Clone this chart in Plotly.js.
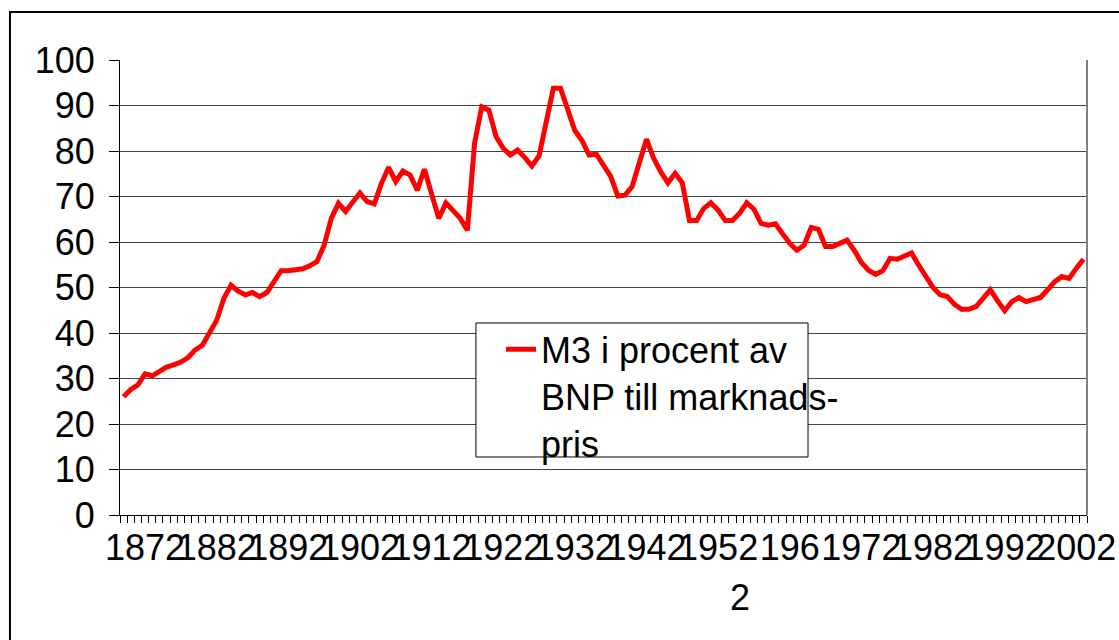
<!DOCTYPE html>
<html>
<head>
<meta charset="utf-8">
<script src="https://cdn.plot.ly/plotly-3.0.1.min.js"></script>
<style>
html,body{margin:0;padding:0;background:#fff;}
#chart{width:1119px;height:640px;}
</style>
</head>
<body>
<div id="chart"></div>
<script>
// Years (categories)
var years = [];
for (var y = 1869; y <= 2003; y++) years.push(y);

// M3 i procent av BNP till marknadspris
var m3Share = [
  26.0, 27.6, 28.6, 31.0, 30.6, 31.7, 32.5, 33.0, 33.6, 34.6,
  36.3, 37.3, 40.3, 42.8, 47.6, 50.5, 49.2, 48.4, 48.9, 48.0,
  48.9, 51.3, 53.7, 53.7, 54.0, 54.1, 54.8, 55.7, 59.3, 65.2,
  68.5, 66.7, 68.8, 70.8, 68.9, 68.4, 72.9, 76.4, 73.3, 75.6,
  74.7, 71.4, 76.0, 70.5, 65.2, 68.6, 67.0, 65.2, 62.6, 81.7,
  89.7, 89.0, 83.2, 80.6, 79.1, 80.2, 78.6, 76.7, 78.9, 86.1,
  93.8, 93.8, 89.0, 84.5, 82.3, 79.1, 79.3, 76.9, 74.4, 70.1,
  70.3, 72.2, 77.3, 82.6, 78.4, 75.4, 73.0, 75.1, 73.0, 64.7,
  64.7, 67.4, 68.6, 67.0, 64.7, 64.7, 66.3, 68.6, 67.2, 64.1,
  63.7, 64.0, 61.8, 59.7, 58.2, 59.3, 63.2, 62.8, 59.0, 59.0,
  59.7, 60.4, 58.2, 55.5, 53.8, 52.9, 53.7, 56.4, 56.2, 56.9,
  57.6, 54.9, 52.2, 50.0, 48.4, 48.0, 46.3, 45.2, 45.2, 45.8,
  47.6, 49.5, 47.1, 44.9, 46.9, 47.8, 46.9, 47.3, 47.8, 49.5,
  51.3, 52.4, 52.0, 54.2, 56.2
];

// Tick labels (as shown on the original axis)
var tickYears = [1872, 1882, 1892, 1902, 1912, 1922, 1932, 1942, 1952, 1962, 1972, 1982, 1992, 2002];
var tickLabels = ["1872", "1882", "1892", "1902", "1912", "1922", "1932", "1942", "1952", "196", "1972", "1982", "1992", "2002"];

var seriesName = "M3 i procent av<br>BNP till marknads-<br>pris";
var xTitle = "2";

var FONT = "Liberation Sans, Arial, sans-serif";

var trace = {
  x: years,
  y: m3Share,
  type: "scatter",
  mode: "lines",
  name: seriesName,
  line: {color: "#FF0000", width: 5},
  hoverinfo: "x+y"
};

var layout = {
  width: 1119,
  height: 640,
  paper_bgcolor: "#fff",
  plot_bgcolor: "#fff",
  margin: {l: 120, r: 32, t: 60, b: 125},
  font: {family: FONT, size: 36, color: "#000"},
  showlegend: true,
  legend: {
    x: 0.394, y: 0.43, xanchor: "left", yanchor: "top",
    valign: "top",
    bgcolor: "rgba(0,0,0,0)", borderwidth: 0,
    font: {family: FONT, size: 36, color: "#000"}
  },
  xaxis: {
    range: [1868.5, 2003.5],
    tickmode: "array",
    tickvals: tickYears,
    ticktext: tickLabels,
    tickangle: 0,
    ticks: "",
    ticklabelstandoff: 1,
    showline: true,
    linecolor: "#000",
    linewidth: 1,
    showgrid: false,
    zeroline: false,
    tickfont: {family: FONT, size: 36, color: "#000"},
    minor: {
      tickmode: "linear",
      tick0: 1868.5,
      dtick: 1,
      ticks: "outside",
      ticklen: 7,
      tickcolor: "#000",
      tickwidth: 1,
      showgrid: false
    },
    fixedrange: true
  },
  yaxis: {
    range: [0, 100],
    tickmode: "linear",
    tick0: 0,
    dtick: 10,
    ticks: "outside",
    ticklen: 10,
    tickcolor: "#000",
    showline: true,
    linecolor: "#000",
    linewidth: 1,
    showgrid: true,
    gridcolor: "#444",
    gridwidth: 1,
    zeroline: false,
    ticklabelstandoff: 7,
    tickfont: {family: FONT, size: 36, color: "#000"},
    fixedrange: true
  },
  shapes: [
    // outer chart border
    {type: "rect", xref: "paper", yref: "paper",
     x0: -0.1138, x1: 1.2, y0: -0.5, y1: 1.1055,
     line: {color: "#000", width: 2}, fillcolor: "rgba(0,0,0,0)", layer: "above"},
    // right border of plot area
    {type: "line", xref: "paper", yref: "paper",
     x0: 1, x1: 1, y0: 0, y1: 1,
     line: {color: "#808080", width: 2}, layer: "above"},
    // legend box
    {type: "rect", xref: "paper", yref: "paper",
     x0: 0.3681, x1: 0.7115, y0: 0.1275, y1: 0.422,
     line: {color: "#000", width: 1}, fillcolor: "#fff", layer: "above"}
  ],
  annotations: [
    {text: xTitle, xref: "paper", yref: "paper", x: 0.641, y: -0.182,
     xanchor: "center", yanchor: "middle", showarrow: false,
     font: {family: FONT, size: 36, color: "#000"}}
  ]
};

Plotly.newPlot("chart", [trace], layout, {displayModeBar: false, staticPlot: true});
</script>
</body>
</html>
